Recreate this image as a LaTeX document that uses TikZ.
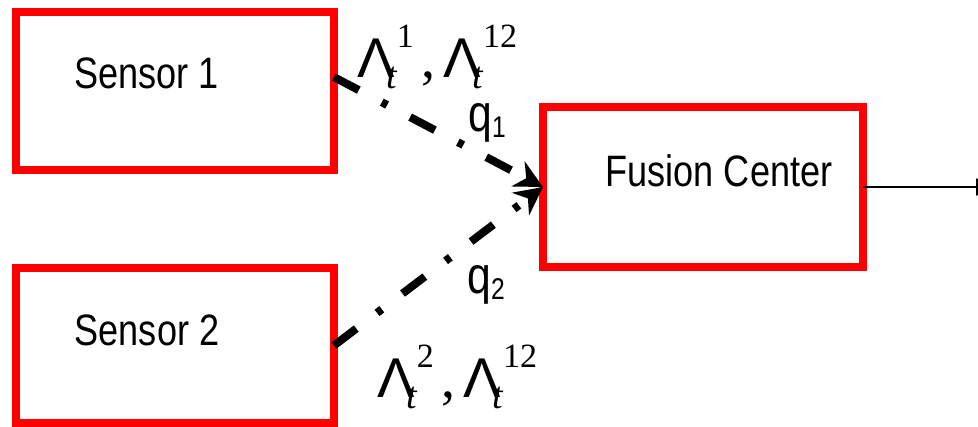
\documentclass[tikz,border=0pt]{standalone}
\usepackage{fontspec}
\usepackage{xcolor}
\newfontfamily\lblfont[FakeStretch=0.82]{Liberation Sans}
\newfontfamily\symfont{Liberation Sans}
\newfontfamily\scrserif{Liberation Serif}
\newcommand{\scrfont}{\fontsize{17}{19}\selectfont\scrserif\upshape}
\newcommand{\Lamts}[1]{{\symfont Λ}\kern1pt\raisebox{15pt}{\scrfont #1}\llap{\raisebox{-5.5pt}{\fontsize{19}{21}\selectfont\scrserif\itshape t}\phantom{\scrfont #1}}}
\newcommand{\qsub}[1]{q\raisebox{-3pt}{\fontsize{15}{17}\selectfont #1}}
\usetikzlibrary{arrows.meta}

\begin{document}
\begin{tikzpicture}[x=0.5pt, y=-0.5pt,
        box/.style={draw=red, line width=4pt, minimum width=159pt, minimum height=79pt, inner sep=0pt, outer sep=0pt},
        boxtext/.style={font=\lblfont\fontsize{22}{26}\selectfont, inner sep=0pt},
        qtext/.style={font=\lblfont\fontsize{26}{30}\selectfont, inner sep=0pt, anchor=base west},
        link/.style={line width=4pt, dash pattern=on 14pt off 13pt on 3pt off 13pt, -{Stealth[length=14pt, width=14pt]}},
        lamlbl/.style={font=\scrserif\fontsize{28}{30}\selectfont, inner sep=0pt, anchor=base west}]

        % 1. 畫布範圍
        \clip (0,0) rectangle (978,427);

        % 2. 三個紅色方塊
        \node[box] (s1) at (175,91) {};
        \node[box, minimum height=77.5pt] (s2) at (175,345.5) {};
        \node[box, minimum width=160pt, minimum height=80pt] (fc) at (703,187) {};

        % 方塊裡的文字
        \node[boxtext] (s1txt) at (146.5,73.5) {Sensor 1};
        \node[boxtext] (s2txt) at (147,330) {Sensor 2};
        \node[boxtext] (fctxt) at (719,170.5) {Fusion Center};

        % 3. 感測器到融合中心的虛線箭頭
        \draw[link] (s1.5) -- (fc.west);
        \draw[link] (s2.east) -- (fc.west);

        % 4. 融合中心的輸出
        \coordinate (out) at (996,187);
        \draw[line width=1pt, -{Latex[length=10pt, width=9pt]}] (fc.east) -- (out);

        % 5. 標籤
        \node[lamlbl] (lam1) at (357,78) {\Lamts{1}\kern4pt,\kern4pt\Lamts{12}};
        \node[lamlbl] (lam2) at (377,397) {\Lamts{2}\kern4pt,\kern4pt\Lamts{12}};
        \node[qtext] (q1) at (468,132) {\qsub{1}};
        \node[qtext] (q2) at (467,293) {\qsub{2}};

    \end{tikzpicture}
\end{document}
